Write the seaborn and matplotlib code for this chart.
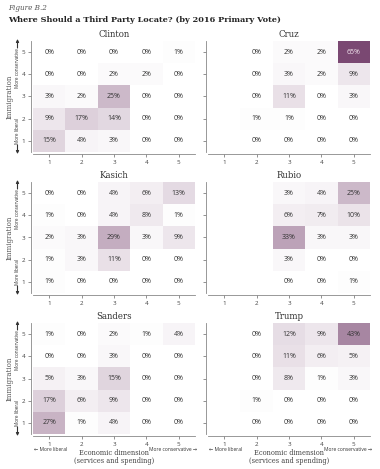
import matplotlib
matplotlib.use("Agg")
import matplotlib.pyplot as plt
import numpy as np
import seaborn as sns
from matplotlib.colors import LinearSegmentedColormap

# immigration rows top->bottom: 5,4,3,2,1 ; economic columns 1..5 (None = no cell)
rows = ["5", "4", "3", "2", "1"]
cols = ["1", "2", "3", "4", "5"]

clinton = [
    [0, 0, 0, 0, 1],
    [0, 0, 2, 2, 0],
    [3, 2, 25, 0, 0],
    [9, 17, 14, 0, 0],
    [15, 4, 3, 0, 0],
]
cruz = [
    [None, 0, 2, 2, 65],
    [None, 0, 3, 2, 9],
    [None, 0, 11, 0, 3],
    [None, 1, 1, 0, 0],
    [None, 0, 0, 0, 0],
]
kasich = [
    [0, 0, 4, 6, 13],
    [1, 0, 4, 8, 1],
    [2, 3, 29, 3, 9],
    [1, 3, 11, 0, 0],
    [1, 0, 0, 0, 0],
]
rubio = [
    [None, None, 3, 4, 25],
    [None, None, 6, 7, 10],
    [None, None, 33, 3, 3],
    [None, None, 3, 0, 0],
    [None, None, 0, 0, 1],
]
sanders = [
    [1, 0, 2, 1, 4],
    [0, 0, 3, 0, 0],
    [5, 3, 15, 0, 0],
    [17, 6, 9, 0, 0],
    [27, 1, 4, 0, 0],
]
trump = [
    [None, 0, 12, 9, 43],
    [None, 0, 11, 6, 5],
    [None, 0, 8, 1, 3],
    [None, 1, 0, 0, 0],
    [None, 0, 0, 0, 0],
]

panels = [
    ("Clinton", clinton), ("Cruz", cruz),
    ("Kasich", kasich), ("Rubio", rubio),
    ("Sanders", sanders), ("Trump", trump),
]

W, H = 380, 469
SERIF = "DejaVu Serif"
SANS = "Open Sans"
cmap = LinearSegmentedColormap.from_list("pur", ["#ffffff", "#7a4872"])

sns.set_theme(style="white")
plt.rcParams["font.family"] = [SANS, "DejaVu Sans"]

fig = plt.figure(figsize=(W / 100, H / 100), dpi=100)


def fx(px):
    return px / W


def fy(py):
    return 1 - py / H


# panel boxes in pixels
lefts = [33, 208]
tops = [41, 182, 323]
pw, ph = 162, 111

for i, (name, data) in enumerate(panels):
    r, c = divmod(i, 2)
    x0, y0 = lefts[c], tops[r]
    ax = fig.add_axes([fx(x0), fy(y0 + ph), pw / W, ph / H])
    arr = np.array([[np.nan if v is None else v for v in row] for row in data], dtype=float)
    labels = np.array([["" if v is None else f"{v}%" for v in row] for row in data])
    sns.heatmap(arr, ax=ax, cmap=cmap, vmin=0, vmax=65, cbar=False,
                annot=labels, fmt="", annot_kws={"fontsize": 5, "color": "#333333"},
                xticklabels=cols, yticklabels=rows)
    for t in ax.texts:
        try:
            v = float(t.get_text().rstrip("%"))
        except ValueError:
            continue
        t.set_color("#f3e6ef" if v > 50 else "#333333")
    ax.set_title(name, fontsize=6.2, family=SERIF, color="#333333", pad=3)
    for s in ["left", "bottom"]:
        ax.spines[s].set_visible(True)
        ax.spines[s].set_color("#888888")
        ax.spines[s].set_linewidth(0.6)
        ax.spines[s].set_position(("outward", 1.5))
    ax.tick_params(axis="both", length=2.5, width=0.5, color="#666666",
                   labelsize=4.5, labelcolor="#444444", pad=1.5,
                   bottom=True, left=True)
    ax.set_xlabel("")
    ax.set_ylabel("")
    plt.setp(ax.get_yticklabels(), rotation=0)
    if c == 1:
        ax.set_yticklabels([])
    else:
        # side labels for immigration axis
        mid = y0 + ph / 2
        fig.text(fx(10), fy(mid), "Immigration", rotation=90, ha="center", va="center",
                 fontsize=5, family=SERIF, color="#555555")
        fig.text(fx(17.5), fy(y0 + 27), "More conservative", rotation=90,
                 ha="center", va="center", fontsize=3.3, color="#333333")
        fig.text(fx(17.5), fy(y0 + 90), "More liberal", rotation=90,
                 ha="center", va="center", fontsize=3.3, color="#333333")
        ax.annotate("", xy=(fx(17.5), fy(y0 - 2)), xytext=(fx(17.5), fy(y0 + 7)),
                    xycoords="figure fraction", textcoords="figure fraction",
                    arrowprops=dict(arrowstyle="-|>", lw=0.8, color="#333333",
                                    mutation_scale=4, shrinkA=0, shrinkB=0))
        ax.annotate("", xy=(fx(17.5), fy(y0 + ph + 2)), xytext=(fx(17.5), fy(y0 + ph - 7)),
                    xycoords="figure fraction", textcoords="figure fraction",
                    arrowprops=dict(arrowstyle="-|>", lw=0.8, color="#333333",
                                    mutation_scale=4, shrinkA=0, shrinkB=0))
    if r == 2:
        fig.text(fx(x0 + 1), fy(449), "\u2190 More liberal", ha="left", va="center",
                 fontsize=3.6, family=[SANS, "DejaVu Sans"], color="#333333")
        fig.text(fx(x0 + pw + 2), fy(449), "More conservative \u2192", ha="right",
                 va="center", fontsize=3.6, family=[SANS, "DejaVu Sans"], color="#333333")
        fig.text(fx(x0 + pw / 2), fy(457), "Economic dimension\n(services and spending)",
                 ha="center", va="center", fontsize=4.8, family=SERIF,
                 color="#444444", linespacing=1.0)

fig.text(fx(8), fy(8), "Figure B.2", ha="left", va="center", fontsize=5.2,
         family=SERIF, style="italic", color="#555555")
fig.text(fx(8), fy(20), "Where Should a Third Party Locate? (by 2016 Primary Vote)",
         ha="left", va="center", fontsize=5.85, family=SERIF, weight="bold",
         color="#222222")

fig.savefig("out.png", dpi=100, facecolor="white")
